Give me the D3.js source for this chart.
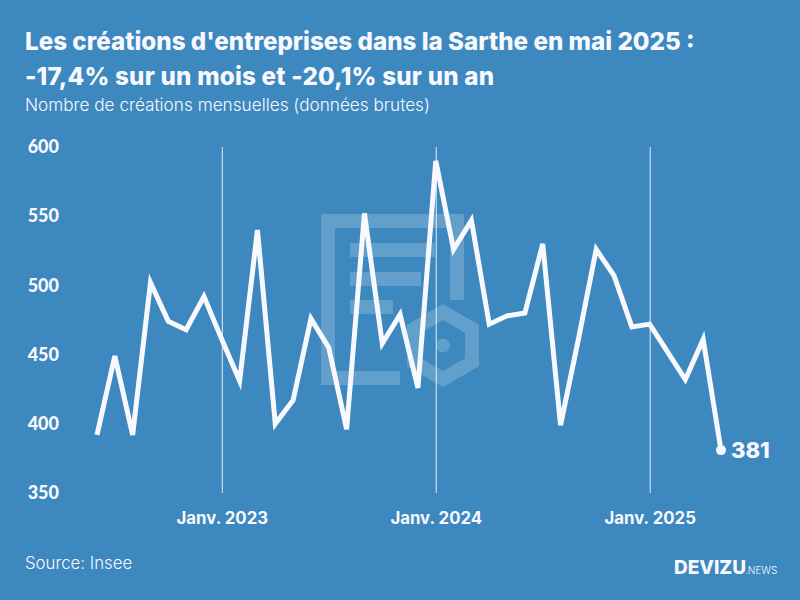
<!DOCTYPE html>
<html>
<head>
<meta charset="utf-8">
<script src="https://d3js.org/d3.v7.min.js"></script>
<style>
  html, body { margin: 0; padding: 0; background: #3d88bf; }
  svg { display: block; }
  text { fill: #f8f9ff; font-family: Inter, sans-serif; }
</style>
</head>
<body>
<svg width="800" height="600"></svg>
<script>
// monthly values, june 2022 to may 2025
var months = ["2022-06","2022-07","2022-08","2022-09","2022-10","2022-11","2022-12",
  "2023-01","2023-02","2023-03","2023-04","2023-05","2023-06","2023-07","2023-08","2023-09","2023-10","2023-11","2023-12",
  "2024-01","2024-02","2024-03","2024-04","2024-05","2024-06","2024-07","2024-08","2024-09","2024-10","2024-11","2024-12",
  "2025-01","2025-02","2025-03","2025-04","2025-05"];
var creations = [392,449,392,502,474,468,492,
  461,431,540,400,417,476,455,396,552,458,479,426,
  590,526,547,472,478,480,530,399,461,526,507,470,
  472,452,432,461,381];
var yTicks = [350,400,450,500,550,600];
var xTicks = ["2023-01","2024-01","2025-01"];
var xTickLabels = ["Janv. 2023","Janv. 2024","Janv. 2025"];

var svg = d3.select("svg");

var x = d3.scaleLinear().domain([0, months.length - 1]).range([97, 721]);
var y = d3.scaleLinear().domain([350, 600]).range([493, 147]);

// watermark logo behind the chart
var logo = svg.append("g").attr("fill", "#fff").attr("fill-opacity", 0.2);
logo.append("path")
  .attr("fill-rule", "evenodd")
  .attr("d", "M321 214H464V300H450V228H335V371H400V385H321Z");
logo.append("rect").attr("x", 350).attr("y", 243).attr("width", 85).attr("height", 14);
logo.append("rect").attr("x", 350).attr("y", 272).attr("width", 71).attr("height", 14);
logo.append("rect").attr("x", 350).attr("y", 300).attr("width", 43).attr("height", 14);
var hex = d3.range(6).map(function (i) {
  var a = Math.PI / 3 * i;
  return [443 + 33.5 * Math.sin(a), 345.5 - 33.5 * Math.cos(a)];
});
logo.append("path")
  .attr("d", "M" + hex.join("L") + "Z")
  .attr("fill", "none")
  .attr("stroke", "#fff")
  .attr("stroke-opacity", 0.2)
  .attr("stroke-width", 14);
logo.append("circle").attr("cx", 443).attr("cy", 345.5).attr("r", 7);

// title
svg.append("text").attr("x", 25).attr("y", 50)
  .style("font-size", "24.2px").style("font-weight", 800)
  .text("Les créations d'entreprises dans la Sarthe en mai 2025 :");
svg.append("text").attr("x", 25).attr("y", 85)
  .style("font-size", "24.2px").style("font-weight", 800)
  .style("letter-spacing", "0.2px")
  .text("-17,4% sur un mois et -20,1% sur un an");
svg.append("text").attr("x", 25).attr("y", 111)
  .style("font-size", "17.2px").style("font-weight", 300)
  .text("Nombre de créations mensuelles (données brutes)");

// y axis
var yAxis = svg.append("g")
  .attr("transform", "translate(59,0)")
  .call(d3.axisLeft(y).tickValues(yTicks).tickSize(0).tickPadding(0));
yAxis.select(".domain").remove();
yAxis.selectAll("text")
  .style("font-family", "Lato, sans-serif")
  .style("font-size", "18px")
  .style("font-weight", 900)
  .style("fill", "#f8f9ff");

// x axis, one line per january
var xAxis = svg.append("g")
  .attr("transform", "translate(0,493)")
  .call(d3.axisBottom(x)
    .tickValues(xTicks.map(function (m) { return months.indexOf(m); }))
    .tickFormat(function (d, i) { return xTickLabels[i]; })
    .tickSize(-346)
    .tickPadding(19));
xAxis.select(".domain").remove();
xAxis.selectAll("line").attr("stroke", "#fff").attr("stroke-opacity", 0.85).attr("stroke-width", 1);
xAxis.selectAll("text")
  .style("font-family", "Inter, sans-serif")
  .style("font-size", "16.8px")
  .style("font-weight", 700)
  .style("fill", "#f8f9ff");

// line
var line = d3.line()
  .x(function (d, i) { return x(i); })
  .y(function (d) { return y(d); });
svg.append("path")
  .datum(creations)
  .attr("fill", "none")
  .attr("stroke", "#f8f9ff")
  .attr("stroke-width", 5)
  .attr("stroke-linejoin", "miter")
  .attr("stroke-miterlimit", 4)
  .attr("d", line);

// last point
var last = creations.length - 1;
svg.append("circle")
  .attr("cx", x(last)).attr("cy", y(creations[last])).attr("r", 5)
  .attr("fill", "#f8f9ff");
svg.append("text")
  .attr("x", x(last) + 10).attr("y", y(creations[last]) + 8)
  .style("font-size", "22px").style("font-weight", 800)
  .text(creations[last]);

// footer
svg.append("text").attr("x", 25).attr("y", 569)
  .style("font-size", "16.8px").style("font-weight", 300)
  .text("Source: Insee");
svg.append("text").attr("x", 674).attr("y", 574)
  .style("font-size", "19px").style("font-weight", 800)
  .text("DEVIZU");
svg.append("text").attr("x", 745).attr("y", 574)
  .style("font-size", "10px").style("font-weight", 300)
  .text(".NEWS");
</script>
</body>
</html>
